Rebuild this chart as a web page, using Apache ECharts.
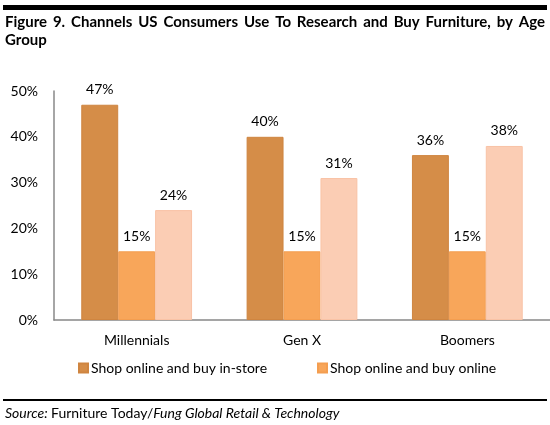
<!DOCTYPE html>
<html>
<head>
<meta charset="utf-8">
<script src="https://cdn.jsdelivr.net/npm/echarts@6/dist/echarts.min.js"></script>
<style>
html,body{margin:0;padding:0;background:#fff;}
#wrap{position:relative;width:550px;height:425px;}
#chart{width:550px;height:425px;}
.rule{position:absolute;left:3px;width:544px;background:#000;z-index:5;}
#topRule{top:5px;height:5px;}
#botRule{top:399px;height:2px;}
</style>
</head>
<body>
<div id="wrap">
<div id="chart"></div>
<div id="topRule" class="rule"></div>
<div id="botRule" class="rule"></div>
</div>
<script>
var categories = ['Millennials', 'Gen X', 'Boomers'];
var seriesNames = ['Shop online and buy in-store', 'Shop online and buy online', 'Research online and in-store'];
var inStore = [47, 40, 36];
var online = [15, 15, 15];
var third = [24, 31, 38];
var yTicks = [0, 10, 20, 30, 40, 50];
var titleText = 'Figure 9. Channels US Consumers Use To Research and Buy Furniture, by Age';
var titleLine2 = 'Group';

var FONT = 'Lato, "Open Sans", sans-serif';
var colors = ['#D58D48', '#F8A65A', '#FBCDB4'];
var borders = ['#CF8540', '#F49E50', '#F9C3A6'];

var chart = echarts.init(document.getElementById('chart'));

// justified title words
var cv = document.createElement('canvas').getContext('2d');
var titleFont = 'bold 15px ' + FONT;
cv.font = titleFont;
var words = titleText.split(' ');
var totalW = 0;
words.forEach(function(w){ totalW += cv.measureText(w).width; });
var x0 = 5, x1 = 545;
var gap = (x1 - x0 - totalW) / (words.length - 1);
var graphics = [];
var cx = x0;
words.forEach(function(w){
  graphics.push({type:'text', left: cx, top: 15, style:{text:w, font: titleFont, fill:'#000'}});
  cx += cv.measureText(w).width + gap;
});
graphics.push({type:'text', left: 5, top: 33, style:{text:titleLine2, font: titleFont, fill:'#000'}});
graphics.push({type:'text', left: 5, top: 406, style:{
  text:'{i|Source:} {n|Furniture Today/}{i|Fung Global Retail & Technology}',
  rich:{
    i:{fontFamily: FONT, fontSize:14, fontStyle:'italic', fill:'#000'},
    n:{fontFamily: FONT, fontSize:14, fill:'#000'}
  }
}});

function mk(i, data){
  return {
    name: seriesNames[i], type:'bar', data: data,
    barGap: 0, barCategoryGap: '33%',
    itemStyle:{color: colors[i], borderColor: borders[i], borderWidth: 1},
    label:{show:true, position:'top', distance:8, formatter:'{c}%', fontFamily: FONT, fontSize:14, color:'#000'}
  };
}

chart.setOption({
  animation:false,
  grid:{left:54, right:-4, top:91, bottom:105, containLabel:false},
  legend:[
    {data:[seriesNames[0]], left:73, top:356, itemWidth:9, itemHeight:9, icon:'rect',
     textStyle:{fontFamily:FONT, fontSize:14, color:'#000', padding:[0,0,0,-2]}},
    {data:[seriesNames[1]], left:312, top:356, itemWidth:9, itemHeight:9, icon:'rect',
     textStyle:{fontFamily:FONT, fontSize:14, color:'#000', padding:[0,0,0,-2]}}
  ],
  xAxis:{type:'category', data:categories,
    axisLine:{lineStyle:{color:'#888', width:1.5}}, axisTick:{show:false},
    axisLabel:{fontFamily:FONT, fontSize:14, color:'#000', margin:13}},
  yAxis:{type:'value', min:yTicks[0], max:yTicks[yTicks.length-1], interval:10,
    axisLine:{show:true, lineStyle:{color:'#888', width:1.5}}, axisTick:{show:false},
    splitLine:{show:false},
    axisLabel:{formatter:'{value}%', fontFamily:FONT, fontSize:14, color:'#000', margin:16}},
  series:[mk(0, inStore), mk(1, online), mk(2, third)],
  graphic: graphics
});
</script>
</body>
</html>
